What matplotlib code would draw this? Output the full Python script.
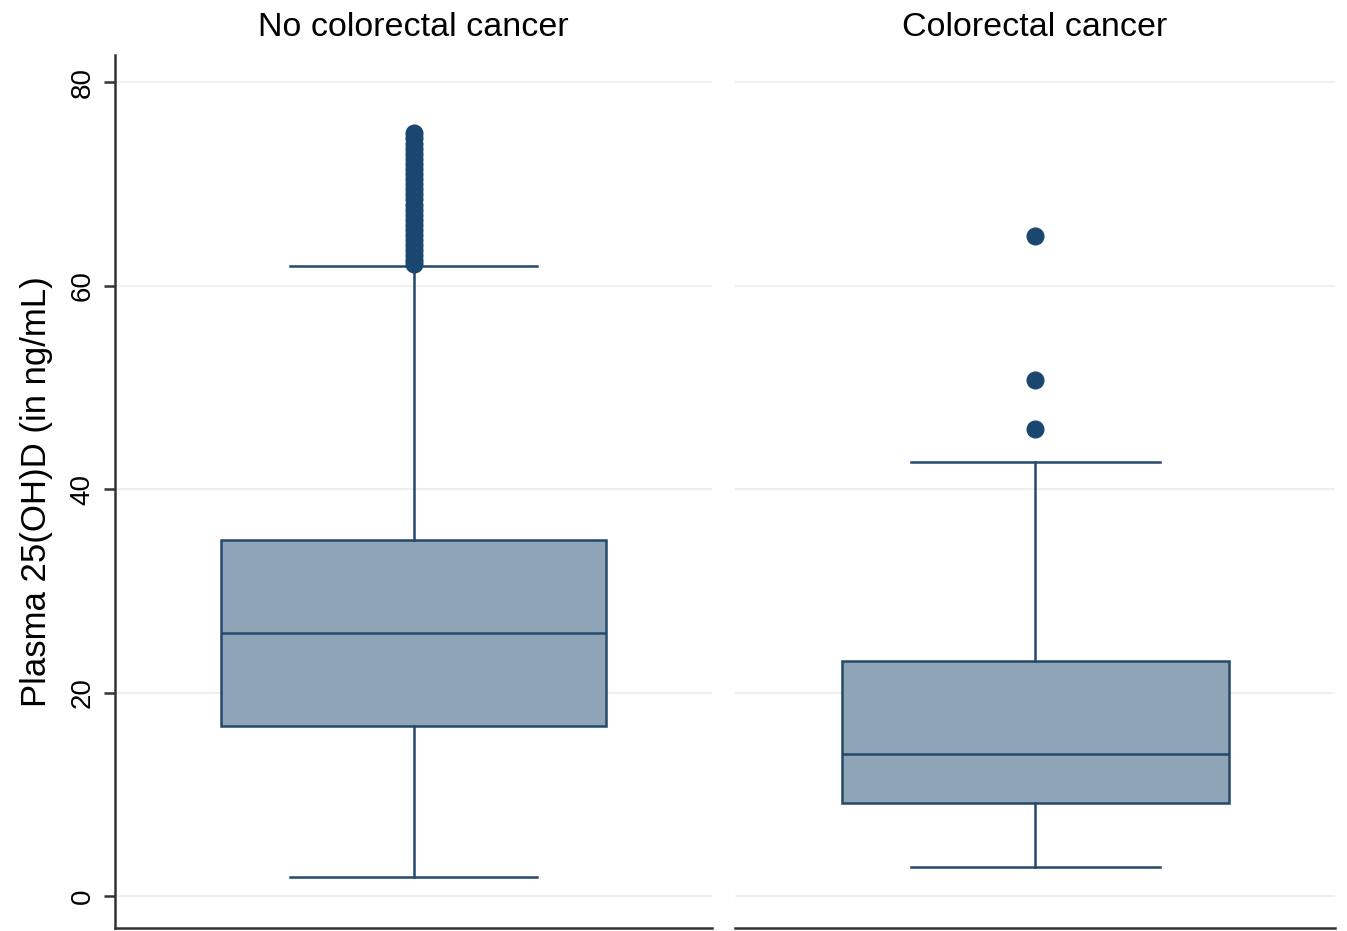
import matplotlib
matplotlib.use("Agg")
import matplotlib.pyplot as plt

plt.rcParams['font.family'] = ['Liberation Sans', 'DejaVu Sans']

groups = ["No colorectal cancer", "Colorectal cancer"]
q1 = [16.8, 9.2]
med = [25.9, 14.0]
q3 = [35.0, 23.1]
whislo = [1.9, 2.9]
whishi = [62.0, 42.7]
fliers_no = [62.2, 62.6, 63.0, 63.5, 64.0, 64.5, 65.0, 65.5, 66.0, 66.5, 67.0,
             67.5, 68.0, 68.5, 69.0, 69.5, 70.0, 70.5, 71.0, 71.5, 72.0, 72.5,
             73.0, 73.5, 74.0, 74.5, 75.0]
fliers_crc = [45.9, 50.8, 64.9]
fliers = [fliers_no, fliers_crc]
yticks = [0, 20, 40, 60, 80]

W, H = 1347, 931
fig = plt.figure(figsize=(W/100, H/100), dpi=100)
fig.patch.set_facecolor('white')

navy = '#1a476f'
fill = '#90a4b8'
edge = '#24496b'

panels = [(115, 712), (735, 1335)]
top, bottom = 55, 928
for i, (x0, x1) in enumerate(panels):
    ax = fig.add_axes([x0/W, 1-bottom/H, (x1-x0)/W, (bottom-top)/H])
    stats = [dict(med=med[i], q1=q1[i], q3=q3[i], whislo=whislo[i], whishi=whishi[i],
                  fliers=fliers[i], label='')]
    ax.bxp(stats, positions=[0], widths=0.645, patch_artist=True,
           boxprops=dict(facecolor=fill, edgecolor=edge, linewidth=1.8),
           medianprops=dict(color=edge, linewidth=1.8),
           whiskerprops=dict(color=edge, linewidth=1.8),
           capprops=dict(color=edge, linewidth=1.8),
           capwidths=0.415,
           flierprops=dict(marker='o', markerfacecolor=navy, markeredgecolor=navy,
                           markersize=12))
    ax.set_xlim(-0.5, 0.5)
    ax.set_ylim(-3.1, 82.7)
    ax.set_yticks(yticks)
    ax.set_xticks([])
    ax.grid(axis='y', color='#ececec', linewidth=1.2)
    ax.set_axisbelow(True)
    for s in ['top', 'right']:
        ax.spines[s].set_visible(False)
    ax.spines['bottom'].set_color('#333333')
    ax.spines['bottom'].set_linewidth(1.8)
    if i == 0:
        ax.spines['left'].set_color('#333333')
        ax.spines['left'].set_linewidth(1.8)
        ax.tick_params(axis='y', length=8, width=1.8, color='#333333', labelsize=20,
                       labelrotation=90, pad=6)
        for lab in ax.get_yticklabels():
            lab.set_va('center')
        ax.set_ylabel("Plasma 25(OH)D (in ng/mL)", fontsize=25, labelpad=12)
    else:
        ax.spines['left'].set_visible(False)
        ax.tick_params(axis='y', left=False, labelleft=False)
    ax.set_title(groups[i], fontsize=24.5, pad=14)

fig.savefig("out.png", dpi=100, facecolor='white')
